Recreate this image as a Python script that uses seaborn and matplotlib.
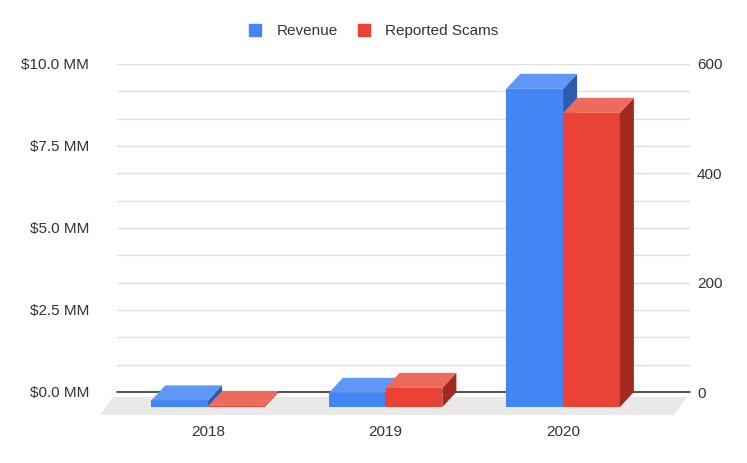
import seaborn as sns
import pandas as pd
import matplotlib.pyplot as plt
import numpy as np
from matplotlib.patches import Polygon
from matplotlib.lines import Line2D

years = ["2018", "2019", "2020"]
revenue_mm = [0.2, 0.43, 9.7]
reported_scams = [2, 35, 538]
series = ["Revenue", "Reported Scams"]
left_ticks = np.linspace(0, 10, 13)
right_ticks = [0, 200, 400, 600]

blue, red = "#4285f4", "#ea4335"
blue_top, red_top = "#5e97f6", "#ee6a5d"
blue_side, red_side = "#2c5cad", "#a3291f"

# each axis gets both series so seaborn dodges them; the other one is 0 and removed
zeros = [0] * len(years)
rev_df = pd.DataFrame({"year": years * 2, "value": revenue_mm + zeros,
                       "series": [series[0]] * 3 + [series[1]] * 3})
scam_df = pd.DataFrame({"year": years * 2, "value": zeros + reported_scams,
                        "series": [series[0]] * 3 + [series[1]] * 3})

sns.set_style("white")
plt.rcParams["font.family"] = ["Liberation Sans", "DejaVu Sans"]

fig = plt.figure(figsize=(7.47, 4.63), dpi=100)
ax = fig.add_axes([117 / 747, 1 - 392 / 463, 573 / 747, 328 / 463])
ax2 = ax.twinx()

pal = {series[0]: blue, series[1]: red}
sns.barplot(data=rev_df, x="year", y="value", hue="series", hue_order=series,
            palette=pal, width=0.64, errorbar=None, legend=False, ax=ax,
            saturation=1, linewidth=0)
sns.barplot(data=scam_df, x="year", y="value", hue="series", hue_order=series,
            palette=pal, width=0.64, errorbar=None, legend=False, ax=ax2,
            saturation=1, linewidth=0)

xlim = (-0.513, 2.715)
ax.set_xlim(*xlim)
ax2.set_xlim(*xlim)
ax.set_ylim(0, 10)
ax2.set_ylim(0, 600)

# depth of the 3d look, in pixels
DX, DY = 14, 15
ax_w_px, ax_h_px = 573, 328


def extrude(a, top_c, side_c, ymax):
    dx = DX / ax_w_px * (xlim[1] - xlim[0])
    dy = DY / ax_h_px * ymax
    for p in list(a.patches):
        x0, w, h = p.get_x(), p.get_width(), p.get_height()
        if h == 0:
            p.remove()
            continue
        p.set_y(-dy)
        p.set_clip_on(False)
        p.set_zorder(2)
        side = Polygon([(x0 + w, -dy), (x0 + w + dx, 0), (x0 + w + dx, h),
                        (x0 + w, h - dy)], closed=True, fc=side_c, ec="none",
                       clip_on=False, zorder=2)
        top = Polygon([(x0, h - dy), (x0 + w, h - dy), (x0 + w + dx, h),
                       (x0 + dx, h)], closed=True, fc=top_c, ec="none",
                      clip_on=False, zorder=2)
        a.add_patch(side)
        a.add_patch(top)


extrude(ax, blue_top, blue_side, 10)
extrude(ax2, red_top, red_side, 600)

# floor
span = xlim[1] - xlim[0]
fdx = 13 / ax_w_px * span
fy_back = -5 / ax_h_px * 10
fy_front = -23 / ax_h_px * 10
xl = xlim[0] - 4 / ax_w_px * span
xr = xlim[1] - 3 / ax_w_px * span
ax.add_patch(Polygon([(xl - fdx, fy_front), (xr - fdx, fy_front), (xr, fy_back),
                      (xl, fy_back)], closed=True, fc="#e9e9e9", ec="none",
                     clip_on=False, zorder=0.2))
ax.axhline(0, color="#333333", lw=1.2, zorder=0.6, clip_on=False)

# grid and ticks
ax.set_yticks(left_ticks)
ax.set_yticklabels([f"${v:.1f} MM" if i % 3 == 0 else "" for i, v in enumerate(left_ticks)])
ax.yaxis.grid(True, color="#e0e0e0", lw=1)
ax.set_axisbelow(True)
ax2.set_yticks(right_ticks)
ax2.set_yticklabels([str(v) for v in right_ticks])
ax2.grid(False)

for a in (ax, ax2):
    a.set_xlabel("")
    a.set_ylabel("")
    for s in a.spines.values():
        s.set_visible(False)
    a.tick_params(length=0, labelsize=11, labelcolor="#333333")
ax.tick_params(axis="y", pad=20)
ax.tick_params(axis="x", pad=24)
ax2.tick_params(axis="y", pad=5)

handles = [Line2D([], [], marker="s", ls="none", ms=8, mfc=c, mec=c) for c in (blue, red)]
fig.legend(handles, series, loc="center", bbox_to_anchor=(369 / 747, 1 - 31 / 463),
           ncol=2, frameon=False, fontsize=11, handletextpad=0.4,
           columnspacing=0.69, labelcolor="#333333", borderpad=0, borderaxespad=0)

fig.savefig("out.png", dpi=100)
